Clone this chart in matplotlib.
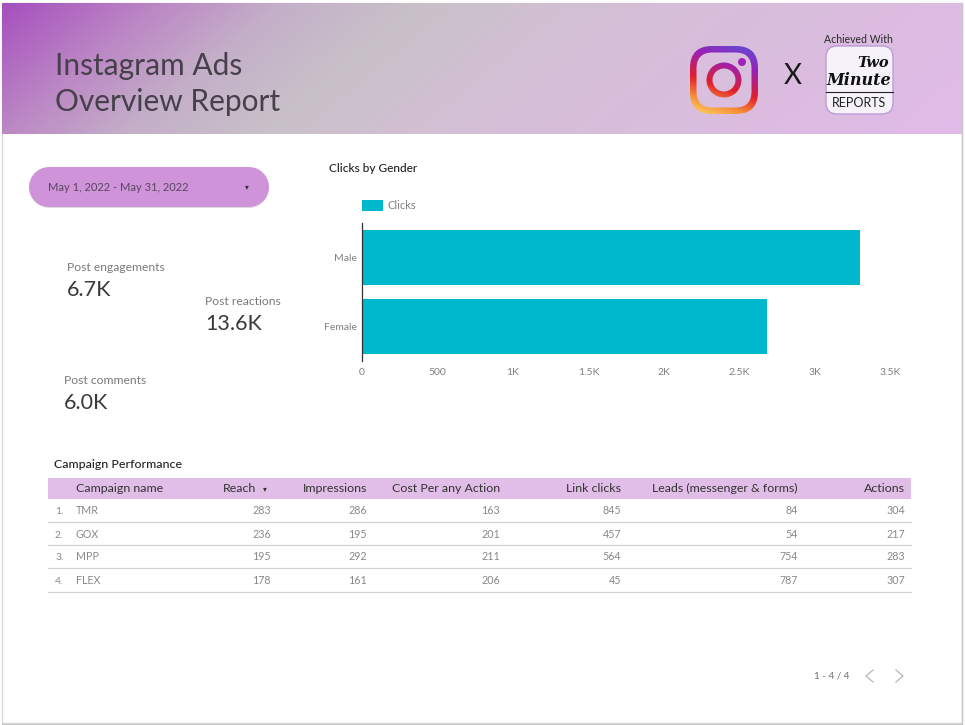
import numpy as np
import matplotlib
matplotlib.use('Agg')
import matplotlib.pyplot as plt
from matplotlib.patches import FancyBboxPatch, Circle, Rectangle
from matplotlib.colors import LinearSegmentedColormap

plt.rcParams['font.family'] = ['Lato', 'DejaVu Sans']

# Dados do grafico
generos = ['Male', 'Female']
cliques = [3298, 2682]
ticks_x = [0, 500, 1000, 1500, 2000, 2500, 3000, 3500]
ticks_x_labels = ['0', '500', '1K', '1.5K', '2K', '2.5K', '3K', '3.5K']

# Dados da tabela
colunas = ['Campaign name', 'Reach', 'Impressions', 'Cost Per any Action',
           'Link clicks', 'Leads (messenger & forms)', 'Actions']
campanhas = ['TMR', 'GOX', 'MPP', 'FLEX']
reach = [283, 236, 195, 178]
impressions = [286, 195, 292, 161]
cost_action = [163, 201, 211, 206]
link_clicks = [845, 457, 564, 45]
leads = [84, 54, 754, 787]
actions = [304, 217, 283, 307]

# KPIs
kpi_nomes = ['Post engagements', 'Post reactions', 'Post comments']
kpi_valores = ['6.7K', '13.6K', '6.0K']

ROXO = '#E1BEE7'
TEAL = '#00B8CE'

fig = plt.figure(figsize=(9.65, 7.25), dpi=100, facecolor='white')

# Camada em pixels, origem no canto superior esquerdo
fundo = fig.add_axes([0, 0, 1, 1])
fundo.set_xlim(0, 965)
fundo.set_ylim(725, 0)
fundo.axis('off')


def rounded(x0, y0, x1, y1, r, **kw):
    p = FancyBboxPatch((x0 + r, y0 + r), x1 - x0 - 2 * r, y1 - y0 - 2 * r,
                       boxstyle='round,pad=%s,rounding_size=%s' % (r, r), **kw)
    fundo.add_patch(p)
    return p


# Borda da pagina
fundo.add_patch(Rectangle((2, 3), 960, 720, fc='white', ec='#DADADA', lw=1))
fundo.plot([2, 962, 962], [723.5, 723.5, 3], color='#C8C8C8', lw=1)

# Cabecalho com gradiente
cmap_topo = LinearSegmentedColormap.from_list(
    'topo', [(0, '#A650BE'), (0.14, '#BC88C5'), (0.25, '#C4AFC8'), (0.38, '#C9C1C9'),
             (0.55, '#D4BFD6'), (1, '#E1BBE8')])
xx, yy = np.meshgrid(np.linspace(0, 1, 480), np.linspace(0, 1, 66))
fundo.imshow(xx * 0.86 + yy * 0.14, cmap=cmap_topo, extent=[2, 962, 134, 3], aspect='auto', vmin=0, vmax=1, zorder=1)
fundo.set_xlim(0, 965)
fundo.set_ylim(725, 0)

fundo.text(55, 66, 'Instagram Ads', fontsize=21.5, color='#45404A', va='center', zorder=3)
fundo.text(55, 102, 'Overview Report', fontsize=21.5, color='#45404A', va='center', zorder=3)

# Logo do Instagram
cmap_ig = LinearSegmentedColormap.from_list(
    'ig', [(0, '#FFD766'), (0.2, '#F7903A'), (0.42, '#E0202C'), (0.72, '#9A1FB8'), (1, '#5A52D6')])
gx, gy = np.meshgrid(np.linspace(0, 1, 80), np.linspace(1, 0, 80))
grad_ig = gx * 0.25 + gy * 0.75
bg_logo = '#D9BEDD'
clip1 = rounded(690, 46, 758, 114, 22, fc='none', ec='none', zorder=3)
im1 = fundo.imshow(grad_ig, cmap=cmap_ig, extent=[690, 758, 114, 46], aspect='auto', zorder=3)
im1.set_clip_path(clip1)
rounded(696.5, 52.5, 751.5, 107.5, 16, fc=bg_logo, ec='none', zorder=4)
clip2 = Circle((724, 80), 17.5, fc='none', ec='none', zorder=5)
fundo.add_patch(clip2)
im2 = fundo.imshow(grad_ig, cmap=cmap_ig, extent=[690, 758, 114, 46], aspect='auto', zorder=5)
im2.set_clip_path(clip2)
fundo.add_patch(Circle((724, 80), 11.5, fc=bg_logo, ec='none', zorder=6))
fundo.add_patch(Circle((742, 62), 4, fc='#A022B8', ec='none', zorder=6))
fundo.set_xlim(0, 965)
fundo.set_ylim(725, 0)

fundo.text(793, 76, 'X', fontsize=20, color='#1A1A1A', ha='center', va='center', zorder=4)

# Logo Two Minute Reports
fundo.text(858, 39.5, 'Achieved With', fontsize=7.6, color='#2A2A2A', ha='center', va='center', zorder=4)
rounded(826, 46, 893, 114, 11, fc='#F5F3F9', ec='#BE9AD8', lw=1, zorder=3)
fundo.text(873, 63, 'Two', fontsize=10.5, family='DejaVu Serif', style='italic', fontweight='bold',
           color='#111111', ha='center', va='center', zorder=4)
fundo.text(859, 80, 'Minute', fontsize=11.5, family='DejaVu Serif', style='italic', fontweight='bold',
           color='#111111', ha='center', va='center', zorder=4)
fundo.plot([826, 893], [92, 92], color='#222222', lw=0.8, zorder=4)
fundo.text(859, 103, 'REPORTS', fontsize=9, color='#222222', ha='center', va='center', zorder=4)

# Filtro de data (pilula feita com linha de ponta redonda)
fundo.plot([49, 249], [188.2, 188.2], color='#C4C4C4', lw=28.8, solid_capstyle='round', alpha=0.6, zorder=1)
fundo.plot([49, 249], [187, 187], color='#CE93D8', lw=28.8, solid_capstyle='round', zorder=2)
fundo.text(48, 187.5, 'May 1, 2022 - May 31, 2022', fontsize=8, color='#5A4660', va='center', zorder=3)
fundo.text(247, 187, '▾', fontsize=5.5, color='#333333', ha='center', va='center', zorder=3,
           family=['DejaVu Sans'])

# KPIs
kpi_pos = [(67, 267, 289.5), (205, 301, 323.5), (64, 380, 402.5)]
for nome, valor, (x, y1, y2) in zip(kpi_nomes, kpi_valores, kpi_pos):
    fundo.text(x, y1, nome, fontsize=8.7, color='#7A7A7A', va='center', zorder=3)
    fundo.text(x, y2, valor, fontsize=15.5, color='#3A3A3A', va='center', zorder=3)

# Grafico de barras
fundo.text(329, 168.5, 'Clicks by Gender', fontsize=8.6, color='#222222', fontweight='medium', va='center')
fundo.add_patch(Rectangle((362, 200), 21, 11, fc=TEAL, ec='none'))
fundo.text(387, 205.5, 'Clicks', fontsize=8, color='#808080', va='center')

ax = fig.add_axes([362 / 965, 1 - 361 / 725, 528.5 / 965, 138 / 725])
ax.barh(generos, cliques, height=0.8, color=TEAL)
ax.set_ylim(1.5, -0.5)
ax.set_xlim(0, 3500)
ax.set_xticks(ticks_x)
ax.set_xticklabels(ticks_x_labels)
ax.tick_params(axis='x', length=0, pad=5, labelsize=7.5, labelcolor='#808080')
ax.tick_params(axis='y', length=0, pad=4, labelsize=7.5, labelcolor='#808080')
for lado in ['top', 'right', 'bottom']:
    ax.spines[lado].set_visible(False)
ax.spines['left'].set_color('#333333')
ax.spines['left'].set_linewidth(0.9)
ax.patch.set_alpha(0)

# Tabela
fundo.text(54.5, 464, 'Campaign Performance', fontsize=8.9, color='#222222', fontweight='medium', va='center')
fundo.add_patch(Rectangle((48, 478), 863, 21, fc=ROXO, ec='none'))

col_x = [76, 256, 367, 500, 621, 798, 905]
y_head = 492
fundo.text(col_x[0], y_head, colunas[0], fontsize=8.9, color='#333333', va='baseline')
for x, nome in zip(col_x[1:], colunas[1:]):
    fundo.text(x, y_head, nome, fontsize=8.9, color='#333333', ha='right', va='baseline')
fundo.text(265, 488.5, '▾', fontsize=5.5, color='#333333', ha='center', va='center', family=['DejaVu Sans'])

linhas_y = [522, 545, 568, 592]
texto_y = [514.5, 537.5, 560.5, 584]
colunas_num = [reach, impressions, cost_action, link_clicks, leads, actions]
x_num = [271, 367, 500, 621, 798, 905]
for i, camp in enumerate(campanhas):
    fundo.text(55, texto_y[i], '%d.' % (i + 1), fontsize=7.4, color='#888888', va='baseline')
    fundo.text(col_x[0], texto_y[i], camp, fontsize=7.7, color='#888888', va='baseline')
    for x, vals in zip(x_num, colunas_num):
        fundo.text(x, texto_y[i], str(vals[i]), fontsize=7.7, color='#888888', ha='right', va='baseline')
    fundo.plot([48, 911], [linhas_y[i], linhas_y[i]], color='#D2D2D2', lw=0.9)

# Paginacao
fundo.text(814, 676, '1 - 4 / 4', fontsize=7.2, color='#707070', va='center')
fundo.plot([873, 866, 873], [670, 676, 682], color='#BDBDBD', lw=1)
fundo.plot([896, 903, 896], [670, 676, 682], color='#BDBDBD', lw=1)

fig.savefig('out.png', dpi=100)
